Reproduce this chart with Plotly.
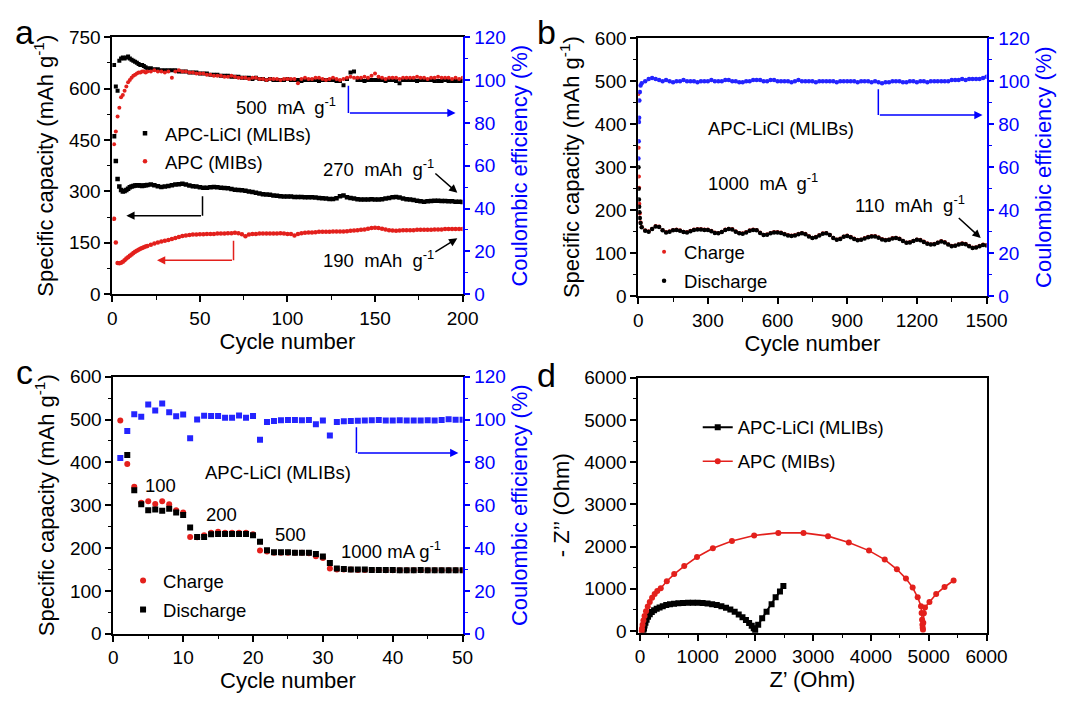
import plotly.graph_objects as go

W, H = 1069, 701
FONT = "Liberation Sans, Arial, sans-serif"
RED = "#E3201C"
BLUE = "#0000FF"
CEBLUE = "#2424FF"

# ---------------- Panel a : cycling at 500 mA/g ----------------
cyc_a = list(range(1, 21)) + list(range(22, 201, 2))
a_licl_cap = [461, 389, 336, 314, 304, 300, 301, 304, 308, 312, 314, 316, 317, 318, 318, 317, 316, 317, 318, 319,
              320, 318, 315, 313, 314, 316, 318, 320, 321, 322,
              320, 317, 315, 314, 312, 311, 311, 312, 313, 312,
              311, 310, 309, 307, 305, 304, 303, 302, 300, 298,
              296, 294, 292, 291, 290, 288, 287, 286, 285, 285,
              285, 284, 284, 284, 283, 283, 283, 282, 281, 280,
              279, 278, 278, 280, 286, 288, 283, 281, 279, 277,
              276, 276, 276, 277, 276, 276, 277, 279, 281, 283,
              284, 282, 279, 277, 276, 275, 273, 271, 270, 271,
              272, 273, 273, 272, 272, 271, 271, 270, 270, 269]
a_apc_cap = [220, 151, 91, 90, 92, 95, 99, 104, 108, 112, 116, 120, 124, 127, 130, 133, 135, 137, 139, 141,
             144, 148, 151, 154, 156, 158, 161, 164, 167, 170,
             171, 173, 174, 174, 175, 175, 176, 176, 176, 177,
             177, 177, 178, 178, 179, 178, 175, 169, 174, 176,
             176, 177, 177, 177, 177, 177, 177, 178, 177, 176,
             176, 171, 176, 178, 179, 180, 180, 181, 182, 182,
             182, 182, 183, 183, 183, 183, 184, 185, 186, 187,
             188, 189, 191, 193, 194, 193, 191, 189, 187, 186,
             185, 186, 187, 187, 187, 187, 188, 188, 188, 188,
             188, 189, 189, 189, 190, 190, 190, 190, 190, 190]
a_licl_ce = [107, 97, 95, 109, 110, 110.5, 110, 110.5, 111, 110, 109.5, 109, 108.5, 108, 107.5, 107, 107, 106.5, 106, 105.5,
             105.5, 105, 105, 104.5, 104.5, 104.5, 104.5, 104.5, 104, 104,
             104, 103.5, 103.5, 103.5, 103, 103, 103, 102.5, 102.5, 102.5,
             102, 102, 102, 101.5, 101.5, 101.5, 101, 101, 101, 100.5,
             101, 100.5, 100.5, 100, 100.5, 100, 100, 100, 100, 100.5,
             100, 100, 100, 99.5, 100, 100, 100, 100, 99.5, 100,
             100, 100, 100, 99.5, 99.5, 97.5, 100.5, 103.5, 104, 100,
             100, 99.5, 100, 100, 100, 100, 100, 99.5, 100, 100,
             99.5, 98.5, 100, 100, 100, 100, 99.5, 100, 100, 100,
             100, 99.5, 99.5, 99.5, 100, 99.5, 99.5, 99.5, 99.5, 99.5]
a_apc_ce = [70, 76, 83, 87, 92, 93, 95, 97, 99, 100, 101, 102, 102.5, 103, 103.5, 103.5, 104, 104, 103.5, 104,
            104, 104.5, 104, 104, 103.5, 104, 101, 104, 104.5, 104,
            104, 103.5, 103.5, 103, 103, 103, 102.5, 102.5, 102, 102,
            102, 101.5, 101.5, 102, 101.5, 101, 101, 101, 100.5, 101,
            101, 100.5, 100.5, 100, 100.5, 100.5, 100.5, 100, 100.5, 100.5,
            100.5, 100.5, 98.5, 100.5, 101, 100.5, 100.5, 101, 101, 100.5,
            100, 100.5, 101, 100.5, 100, 100.5, 101, 101.5, 101, 101,
            101, 101.5, 101, 102, 103, 101.5, 101, 100.5, 101, 101,
            101, 100.5, 101, 101, 101, 101, 101.5, 101, 101, 100.5,
            101, 101, 101.5, 101, 101, 101, 100.5, 101, 100.5, 101]

# ---------------- Panel b : long cycling at 1000 mA/g ----------------
cyc_b = [1, 2, 3, 4, 5, 7, 10] + list(range(15, 1501, 15))
b_discharge = [300, 250, 225, 208, 195, 182, 170,
               160, 152, 150, 156, 162, 161, 153, 148, 150, 153,
               154, 152, 149, 148, 151, 154, 155, 155, 154, 154,
               151, 147, 146, 149, 154, 156, 155, 150, 146, 145,
               148, 152, 154, 153, 147, 142, 143, 146, 148, 148,
               147, 144, 141, 140, 141, 144, 146, 144, 139, 135,
               137, 141, 145, 146, 142, 135, 131, 133, 138, 140,
               137, 133, 130, 131, 134, 137, 139, 139, 136, 132,
               130, 131, 134, 135, 133, 128, 124, 125, 128, 131,
               130, 126, 122, 120, 121, 124, 127, 125, 120, 116,
               117, 120, 122, 121, 116, 112, 113, 116, 119, 118]
b_charge = [470, 345, 278, 252, 215, 192, 172,
            161, 153, 151, 157, 163, 162, 154, 149, 151, 154,
            155, 153, 150, 149, 152, 155, 156, 156, 155, 155,
            152, 148, 147, 150, 155, 157, 156, 151, 147, 146,
            149, 153, 155, 154, 148, 143, 144, 147, 149, 149,
            148, 145, 142, 141, 142, 145, 147, 145, 140, 136,
            138, 142, 146, 147, 143, 136, 132, 134, 139, 141,
            138, 134, 131, 132, 135, 138, 140, 140, 137, 133,
            131, 132, 135, 136, 134, 129, 125, 126, 129, 132,
            131, 127, 123, 121, 122, 125, 128, 126, 121, 117,
            118, 121, 123, 122, 117, 113, 114, 117, 120, 119]
b_ce = [64, 72, 81, 83, 91, 95, 98,
        99, 100, 101, 101.5, 101, 100.5, 100, 100.5, 100, 99.5,
        100, 100, 100.5, 100, 100, 100, 99.5, 100, 100, 100,
        100.5, 100, 100, 100, 100.5, 100.5, 100, 100, 99.5, 99.5,
        100, 100, 100.5, 100.5, 100.5, 100, 100, 100.5, 100.5, 100,
        100, 100, 100, 99.5, 100, 100.5, 100, 100, 100, 100,
        99.5, 100, 100, 100, 100, 100, 99.5, 100, 100, 100,
        100, 100, 99.5, 100, 100, 100, 99.5, 100, 99.5, 99,
        99.5, 99.5, 100, 100, 100, 99.5, 99.5, 100, 100, 99.5,
        100, 100, 99.5, 100, 100, 100, 100, 100, 100, 100.5,
        100.5, 100.5, 101, 100.5, 101, 101, 101, 101, 101.5, 102]

# ---------------- Panel c : rate capability ----------------
cyc_c = list(range(1, 51))
c_charge = [498, 396, 343, 306, 309, 303, 309, 302, 288, 283,
            226, 225, 230, 236, 238, 236, 236, 236, 236, 232,
            194, 192, 189, 189, 189, 189, 189, 188, 181, 177,
            152, 150, 150, 150, 149, 149, 149, 149, 148, 148,
            148, 148, 148, 148, 148, 148, 148, 148, 148, 148]
c_discharge = [607, 417, 335, 302, 288, 290, 287, 292, 283, 277,
               248, 226, 226, 232, 233, 233, 233, 233, 233, 230,
               215, 195, 190, 190, 190, 189, 189, 189, 186, 180,
               165, 152, 151, 150, 150, 150, 149, 149, 149, 149,
               148, 148, 148, 149, 148, 148, 148, 148, 148, 148]
c_ce = [82, 94.6, 102.5, 101.3, 107, 104.2, 107.5, 103.4, 101.5, 102.3,
        91.3, 100, 101.8, 101.7, 101.6, 100.8, 100.8, 101.9, 100.8, 101.7,
        90.6, 98.8, 99.3, 99.7, 99.8, 99.8, 99.7, 99.8, 97.8, 99.6,
        92.5, 98.9, 99.2, 99.3, 99.4, 99.6, 99.7, 99.8, 99.6, 99.6,
        99.7, 99.5, 99.6, 99.5, 99.7, 99.5, 99.8, 100.1, 99.9, 99.9]
c_rate_labels = ["100", "200", "500", "1000 mA g<sup>-1</sup>"]

# ---------------- Panel d : Nyquist plots ----------------
d_licl_zre = [60, 70, 80, 95, 115, 140, 170, 205, 245, 290, 340, 395, 455, 520, 590, 665, 745, 830,
              915, 1000, 1085, 1170, 1250, 1330, 1410, 1490, 1565, 1640, 1710, 1775, 1835, 1890,
              1935, 1970, 1995, 2047, 2116, 2192, 2279, 2349, 2424, 2483]
d_licl_zim = [0, 60, 130, 200, 270, 340, 400, 450, 495, 530, 560, 590, 615, 635, 650, 660, 666, 669,
              670, 668, 662, 652, 637, 617, 590, 555, 510, 455, 395, 330, 260, 190,
              125, 65, 15, 152, 305, 457, 633, 800, 938, 1067]
d_apc_zre = [30, 35, 45, 60, 80, 105, 135, 170, 210, 255, 300, 360, 465, 593, 767, 988, 1262, 1593,
             1977, 2395, 2831, 3256, 3616, 3965, 4238, 4448, 4605, 4721, 4808, 4866, 4876, 4884,
             4890, 4895, 4900, 4905, 4915, 4935, 5012, 5128, 5273, 5430]
d_apc_zim = [0, 60, 150, 250, 360, 470, 580, 690, 790, 880, 950, 1014, 1181, 1349, 1540, 1753, 1959, 2134,
             2264, 2325, 2325, 2248, 2096, 1905, 1692, 1463, 1242, 1029, 800, 587, 430, 267,
             150, 76, 30, 200, 420, 560, 686, 877, 1044, 1197]

# ---------------- helpers (layout only) ----------------
def dx(p):
    return p / W

def dy(p):
    return 1 - p / H

def axis(domain, rng, dtick, minor, color="black", title=None, side=None, anchor=None,
         overlaying=None, mirror=False, standoff=9):
    d = dict(domain=domain, range=rng, dtick=dtick, tick0=0, showline=True, linecolor=color,
             linewidth=1.7, mirror=mirror, ticks="outside", ticklen=6, tickwidth=1.5, tickcolor=color,
             tickfont=dict(size=19, color=color, family=FONT), showgrid=False, zeroline=False,
             minor=dict(dtick=minor, tick0=0, ticks="outside", ticklen=3.5, tickwidth=1.2,
                        tickcolor=color, showgrid=False))
    if title:
        d["title"] = dict(text=title, font=dict(size=22, color=color, family=FONT), standoff=standoff)
    if side:
        d["side"] = side
    if anchor:
        d["anchor"] = anchor
    if overlaying:
        d["overlaying"] = overlaying
    return d

fig = go.Figure()

# panel a
fig.add_trace(go.Scatter(x=cyc_a, y=a_licl_cap, mode="markers", name="APC-LiCl (MLIBs)",
                         marker=dict(symbol="square", size=4.5, color="black"), xaxis="x", yaxis="y",
                         legend="legend", legendgroup="a1"))
fig.add_trace(go.Scatter(x=cyc_a, y=a_apc_cap, mode="markers", name="APC (MIBs)",
                         marker=dict(symbol="circle", size=4.5, color=RED), xaxis="x", yaxis="y",
                         legend="legend", legendgroup="a2"))
fig.add_trace(go.Scatter(x=cyc_a, y=a_licl_ce, mode="markers", showlegend=False,
                         marker=dict(symbol="square", size=4, color="black"), xaxis="x", yaxis="y2"))
fig.add_trace(go.Scatter(x=cyc_a, y=a_apc_ce, mode="markers", showlegend=False,
                         marker=dict(symbol="circle", size=4, color=RED), xaxis="x", yaxis="y2"))

# panel b
fig.add_trace(go.Scatter(x=cyc_b, y=b_charge, mode="markers", name="Charge",
                         marker=dict(symbol="circle", size=4, color=RED), xaxis="x2", yaxis="y3",
                         legend="legend2", legendgroup="b1"))
fig.add_trace(go.Scatter(x=cyc_b, y=b_discharge, mode="markers", name="Discharge",
                         marker=dict(symbol="circle", size=4.5, color="black"), xaxis="x2", yaxis="y3",
                         legend="legend2", legendgroup="b2"))
fig.add_trace(go.Scatter(x=cyc_b, y=b_ce, mode="markers", showlegend=False,
                         marker=dict(symbol="circle", size=4.5, color=CEBLUE), xaxis="x2", yaxis="y4"))

# panel c
fig.add_trace(go.Scatter(x=cyc_c, y=c_charge, mode="markers", name="Charge",
                         marker=dict(symbol="circle", size=6, color=RED), xaxis="x3", yaxis="y5",
                         legend="legend3", legendgroup="c1"))
fig.add_trace(go.Scatter(x=cyc_c, y=c_discharge, mode="markers", name="Discharge",
                         marker=dict(symbol="square", size=6, color="black"), xaxis="x3", yaxis="y5",
                         legend="legend3", legendgroup="c2"))
fig.add_trace(go.Scatter(x=cyc_c, y=c_ce, mode="markers", showlegend=False,
                         marker=dict(symbol="square", size=6, color=CEBLUE), xaxis="x3", yaxis="y6"))

# panel d
fig.add_trace(go.Scatter(x=d_licl_zre, y=d_licl_zim, mode="lines+markers", name="APC-LiCl (MLIBs)",
                         line=dict(color="black", width=2), marker=dict(symbol="square", size=6, color="black"),
                         xaxis="x4", yaxis="y7", legend="legend4", legendgroup="d1"))
fig.add_trace(go.Scatter(x=d_apc_zre, y=d_apc_zim, mode="lines+markers", name="APC (MIBs)",
                         line=dict(color=RED, width=1.6), marker=dict(symbol="circle", size=6, color=RED),
                         xaxis="x4", yaxis="y7", legend="legend4", legendgroup="d2"))

cap_title = "Specific capacity (mAh g<sup>-1</sup>)"
ce_title = "Coulombic efficiency (%)"

# domains from pixel positions
A_X = [dx(110), dx(469)]; A_Y = [dy(293), dy(28)]
B_X = [dx(649), dx(1006)]; B_Y = [dy(295), dy(29)]
C_X = [dx(111), dx(469)]; C_Y = [dy(643), dy(378)]
D_X = [dx(649), dx(1006)]; D_Y = [dy(642), dy(379)]

layout = dict(
    width=W, height=H, margin=dict(l=0, r=0, t=0, b=0),
    paper_bgcolor="white", plot_bgcolor="white",
    font=dict(family=FONT, size=18, color="black"),
    xaxis=axis(A_X, [0, 200], 50, 25, title="Cycle number", anchor="y", mirror=True, standoff=4),
    yaxis=axis(A_Y, [0, 750], 150, 75, title=cap_title, anchor="x"),
    yaxis2=axis(A_Y, [0, 120], 20, 10, color=BLUE, title=ce_title, side="right", anchor="x",
                overlaying="y", standoff=7),
    xaxis2=axis(B_X, [0, 1500], 300, 150, title="Cycle number", anchor="y3", mirror=True, standoff=4),
    yaxis3=axis(B_Y, [0, 600], 100, 50, title=cap_title, anchor="x2"),
    yaxis4=axis(B_Y, [0, 120], 20, 10, color=BLUE, title=ce_title, side="right", anchor="x2",
                overlaying="y3", standoff=7),
    xaxis3=axis(C_X, [0, 50], 10, 5, title="Cycle number", anchor="y5", mirror=True, standoff=4),
    yaxis5=axis(C_Y, [0, 600], 100, 50, title=cap_title, anchor="x3"),
    yaxis6=axis(C_Y, [0, 120], 20, 10, color=BLUE, title=ce_title, side="right", anchor="x3",
                overlaying="y5", standoff=7),
    xaxis4=axis(D_X, [-30, 6000], 1000, 500, title="Z’ (Ohm)", anchor="y7", mirror=True, standoff=4),
    yaxis7=axis(D_Y, [-40, 6000], 1000, 500, title="- Z’’ (Ohm)", anchor="x4", mirror=True),
)

leg_common = dict(xanchor="left", yanchor="top", bgcolor="rgba(0,0,0,0)", itemwidth=30,
                  font=dict(size=18.5, family=FONT, color="black"))
layout["legend"] = dict(x=dx(123), y=dy(108), tracegroupgap=1, **leg_common)
layout["legend2"] = dict(x=dx(655), y=dy(230), tracegroupgap=2, **leg_common)
layout["legend3"] = dict(x=dx(121), y=dy(569), tracegroupgap=2, **leg_common)
layout["legend4"] = dict(x=dx(710), y=dy(411), tracegroupgap=7, **leg_common)

fig.update_layout(**layout)

ann = []
def txt(x, y, text, xref, yref, size=18.5, color="black", xanchor="center"):
    ann.append(dict(x=x, y=y, text=text, xref=xref, yref=yref, showarrow=False,
                    font=dict(size=size, color=color, family=FONT), xanchor=xanchor, yanchor="middle"))

def arrow(x, y, ax, ay, xref, yref, color="black"):
    ann.append(dict(x=x, y=y, ax=ax, ay=ay, xref=xref, yref=yref, axref=xref, ayref=yref, text="",
                    showarrow=True, arrowhead=2, arrowsize=1.1, arrowwidth=1.5, arrowcolor=color))

shapes = []
def seg(x0, y0, x1, y1, xref, yref, color):
    shapes.append(dict(type="line", x0=x0, y0=y0, x1=x1, y1=y1, xref=xref, yref=yref,
                       line=dict(color=color, width=1.5)))

# panel letters
txt(dx(20), dy(23), "a", "paper", "paper", size=34)
txt(dx(555), dy(23), "b", "paper", "paper", size=34)
txt(dx(20), dy(373), "c", "paper", "paper", size=34)
txt(dx(555), dy(376), "d", "paper", "paper", size=34)

# panel a annotations
txt(99, 549, "500  mA  g<sup>-1</sup>", "x", "y")
txt(152, 368, "270  mAh  g<sup>-1</sup>", "x", "y")
txt(152, 102, "190  mAh  g<sup>-1</sup>", "x", "y")
arrow(197, 296, 183.6, 356, "x", "y")
arrow(197, 163, 183.6, 121, "x", "y")
seg(51.5, 286, 51.5, 229, "x", "y", "black")
arrow(8, 229, 51.5, 229, "x", "y")
seg(69.2, 156, 69.2, 99, "x", "y", RED)
arrow(25.5, 99, 69.2, 99, "x", "y", RED)
seg(134.8, 608, 134.8, 529, "x", "y", BLUE)
arrow(196, 529, 134.8, 529, "x", "y", BLUE)

# panel b annotations
txt(617, 390, "APC-LiCl (MLIBs)", "x2", "y3")
txt(536, 266, "1000  mA  g<sup>-1</sup>", "x2", "y3")
txt(1172, 214, "110  mAh  g<sup>-1</sup>", "x2", "y3")
arrow(1475, 135, 1374, 185, "x2", "y3")
seg(1034, 481, 1034, 421, "x2", "y3", BLUE)
arrow(1483, 421, 1034, 421, "x2", "y3", BLUE)

# panel c annotations
txt(23.6, 376, "APC-LiCl (MLIBs)", "x3", "y5")
txt(6.7, 345, c_rate_labels[0], "x3", "y5")
txt(15.5, 278, c_rate_labels[1], "x3", "y5")
txt(25.4, 231, c_rate_labels[2], "x3", "y5")
txt(39.7, 195, c_rate_labels[3], "x3", "y5")
seg(34.8, 482, 34.8, 422, "x3", "y5", BLUE)
arrow(49.4, 422, 34.8, 422, "x3", "y5", BLUE)

fig.update_layout(annotations=ann, shapes=shapes)
fig.write_html("out.html", config={"displayModeBar": False},
               post_script="document.body.style.margin='0px';document.body.style.overflow='hidden';")
